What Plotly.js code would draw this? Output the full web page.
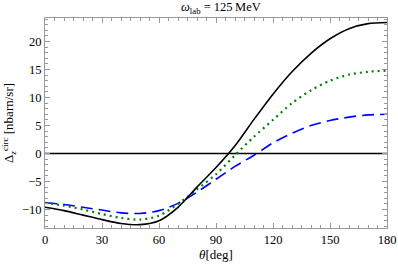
<!DOCTYPE html>
<html>
<head>
<meta charset="utf-8">
<script src="https://cdn.plot.ly/plotly-3.0.1.min.js"></script>
<style>html,body{margin:0;padding:0;background:#fff;}#plot{width:398px;height:265px;}</style>
</head>
<body>
<div id="plot"></div>
<script>
var theta = [0,10,20,30,40,50,60,70,80,90,100,110,120,130,140,150,160,170,180];
var solidBlack = [-9.6,-10.2,-11.0,-11.8,-12.5,-12.7,-12.0,-9.6,-6.0,-2.5,1.4,6.1,10.6,14.6,17.9,20.5,22.3,23.2,23.4];
var dottedGreen = [-8.8,-9.3,-10.0,-10.8,-11.5,-11.8,-11.1,-9.0,-6.4,-3.7,-0.3,3.0,6.0,9.0,11.3,13.0,14.1,14.6,14.8];
var dashedBlue = [-8.8,-9.1,-9.6,-10.1,-10.6,-10.7,-10.2,-8.9,-6.9,-4.6,-2.3,-0.3,1.9,3.6,5.0,5.9,6.5,6.9,7.0];
var zeroX = [0,180];
var zeroY = [0,0];
var xTicks = [0,30,60,90,120,150,180];
var yTicks = [-10,-5,0,5,10,15,20];

var serif = 'Liberation Serif';
var font = {family:serif, size:12.5, color:'#000'};

var traces = [
  {x:zeroX, y:zeroY, mode:'lines', line:{color:'#000', width:1.6}, hoverinfo:'skip'},
  {x:theta, y:dashedBlue, mode:'lines', line:{color:'#0000ff', width:1.6, dash:'12px,6px', shape:'spline', smoothing:0.8}},
  {x:theta, y:dottedGreen, mode:'lines', line:{color:'#008000', width:2.2, dash:'2px,4px', shape:'spline', smoothing:0.8}},
  {x:theta, y:solidBlack, mode:'lines', line:{color:'#000', width:1.6, shape:'spline', smoothing:0.8}}
];

var axisCommon = {
  showgrid:false, zeroline:false, showline:true, linecolor:'#999', linewidth:1,
  mirror:'allticks', ticks:'inside', ticklen:5, tickcolor:'#999', tickwidth:1,
  tickfont:font
};

var layout = {
  width:398, height:265,
  margin:{l:45, r:11, t:18, b:37},
  paper_bgcolor:'#fff', plot_bgcolor:'#fff',
  showlegend:false,
  font:font,
  title:{text:'<i>ω</i><sub>lab</sub> = 125\u2009MeV', font:{family:serif, size:12.5, color:'#000'}, x:0.555, xanchor:'center', y:0.99, yanchor:'top'},
  xaxis:Object.assign({}, axisCommon, {
    range:[0,180], tickmode:'array', tickvals:xTicks, ticktext:xTicks.map(String),
    minor:{dtick:5, ticklen:3, tickcolor:'#999', ticks:'inside'},
    title:{text:'<i>θ</i>[deg]', font:{family:serif, size:13, color:'#000'}, standoff:2}
  }),
  yaxis:Object.assign({}, axisCommon, {
    range:[-13.3,24.2], tickmode:'array', tickvals:yTicks, ticktext:yTicks.map(function(v){return v<0?'\u2212'+Math.abs(v):String(v);}),
    minor:{dtick:1, ticklen:3, tickcolor:'#999', ticks:'inside'},
    title:{text:'Δ<sub><i>z</i></sub><sup>circ</sup> [nbarn/sr]', font:{family:serif, size:13, color:'#000'}, standoff:7}
  })
};

Plotly.newPlot('plot', traces, layout, {staticPlot:true, displayModeBar:false});
</script>
</body>
</html>
